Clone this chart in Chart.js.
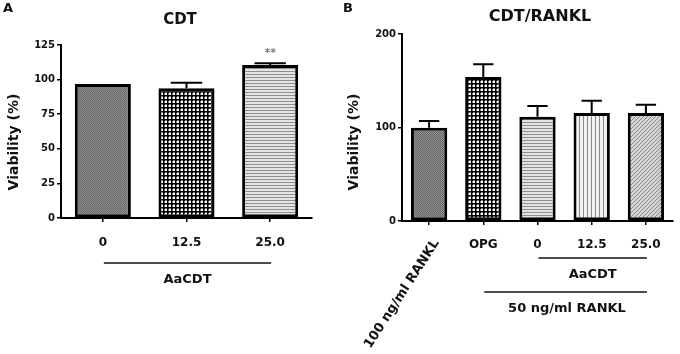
<!DOCTYPE html>
<html>
<head>
<meta charset="utf-8">
<script src="https://cdn.jsdelivr.net/npm/chart.js@4.4.0/dist/chart.umd.min.js"></script>
<style>
  body { margin: 0; background: #fff; width: 680px; height: 354px; position: relative; overflow: hidden; }
  canvas { position: absolute; top: 0; }
</style>
</head>
<body>
<canvas id="chartA" width="340" height="354" style="left:0;width:340px;height:354px"></canvas>
<canvas id="chartB" width="340" height="354" style="left:340px;width:340px;height:354px"></canvas>
<script>
// panel A data
const labelsA = ['0', '12.5', '25.0'];
const viabilityA = [96.8, 93.7, 110.5];
const errorA = [0, 4.1, 1.3];
const ticksA = [0, 25, 50, 75, 100, 125];

// panel B data
const labelsB = ['100 ng/ml RANKL', 'OPG', '0', '12.5', '25.0'];
const viabilityB = [99.7, 154, 111.5, 115.4, 115.4];
const errorB = [7.2, 13.6, 11.4, 13.2, 8.9];
const ticksB = [0, 100, 200];

const FONT = "'DejaVu Sans', sans-serif";
Chart.defaults.font.family = FONT;
Chart.defaults.color = '#111';

// small tile patterns like the GraphPad fills
function tile(w, h, draw) {
    const c = document.createElement('canvas');
    c.width = w; c.height = h;
    const g = c.getContext('2d');
    draw(g);
    return g.createPattern(c, 'repeat');
}
const patGrey = tile(4, 4, g => {
    g.fillStyle = '#939393'; g.fillRect(0, 0, 4, 4);
    g.fillStyle = '#646464';
    for (let i = 0; i < 4; i++) for (let j = 0; j < 4; j++) if ((i + j) % 2 === 0) g.fillRect(i, j, 1, 1);
});
const patDots = tile(4, 4, g => {
    g.fillStyle = '#000'; g.fillRect(0, 0, 4, 4);
    g.fillStyle = '#fff'; g.fillRect(1, 1, 2, 2);
    g.fillStyle = '#777'; g.fillRect(1, 0, 2, 1); g.fillRect(0, 1, 1, 2);
});
const patHoriz = tile(3, 3, g => {
    g.fillStyle = '#e4e4e4'; g.fillRect(0, 0, 3, 3);
    g.fillStyle = '#8e8e8e'; g.fillRect(0, 2, 3, 1);
});
const patVert = tile(4, 4, g => {
    g.fillStyle = '#f2f2f2'; g.fillRect(0, 0, 4, 4);
    g.fillStyle = '#8a8a8a'; g.fillRect(3, 0, 1, 4);
});
const patDiag = tile(4, 4, g => {
    g.fillStyle = '#d4d4d4'; g.fillRect(0, 0, 4, 4);
    g.fillStyle = '#8a8a8a';
    for (let i = 0; i < 4; i++) g.fillRect(i, 3 - i, 1, 1);
});

// draws error bars, titles, group lines
function decor(cfg, errors, means) {
    return {
        id: 'decor',
        afterDatasetsDraw(chart) {
            const ctx = chart.ctx;
            const y = chart.scales.y;
            const bars = chart.getDatasetMeta(0).data;
            ctx.save();
            ctx.strokeStyle = '#000';
            ctx.lineWidth = 2;
            bars.forEach((b, i) => {
                if (!errors[i]) return;
                const top = y.getPixelForValue(means[i] + errors[i]);
                const half = b.width * 0.28;
                ctx.beginPath();
                ctx.moveTo(b.x, b.y);
                ctx.lineTo(b.x, top);
                ctx.moveTo(b.x - half, top);
                ctx.lineTo(b.x + half, top);
                ctx.stroke();
            });
            ctx.restore();
        },
        afterDraw(chart) {
            const ctx = chart.ctx;
            const x = chart.scales.x;
            ctx.save();
            ctx.fillStyle = '#111';
            ctx.textBaseline = 'middle';
            // panel letter
            ctx.font = 'bold 13px ' + FONT;
            ctx.textAlign = 'left';
            ctx.fillText(cfg.letter, cfg.letterX, 9);
            ctx.textAlign = 'center';
            // title
            ctx.font = 'bold ' + cfg.titleSize + 'px ' + FONT;
            ctx.fillText(cfg.title, cfg.titleX, cfg.titleY);
            // y label
            ctx.save();
            ctx.translate(14, 142);
            ctx.rotate(-Math.PI / 2);
            ctx.font = 'bold 14px ' + FONT;
            ctx.fillText('Viability (%)', 0, 0);
            ctx.restore();
            // group lines
            ctx.strokeStyle = '#111';
            ctx.lineWidth = 1.5;
            ctx.font = 'bold 13px ' + FONT;
            cfg.groups.forEach(gr => {
                const x0 = x.getPixelForValue(gr.from) + 1;
                const x1 = x.getPixelForValue(gr.to) + 1;
                ctx.beginPath();
                ctx.moveTo(x0, gr.lineY);
                ctx.lineTo(x1, gr.lineY);
                ctx.stroke();
                ctx.fillText(gr.text, gr.textX != null ? gr.textX : (x0 + x1) / 2, gr.lineY + 17);
            });
            if (cfg.star) {
                ctx.fillStyle = '#777';
                ctx.font = 'bold 11px ' + FONT;
                const b = chart.getDatasetMeta(0).data[cfg.star.index];
                ctx.fillText('**', b.x, cfg.star.y);
            }
            if (cfg.rotated) {
                ctx.fillStyle = '#111';
                ctx.font = 'bold 13px ' + FONT;
                ctx.save();
                ctx.translate(cfg.rotated.x, cfg.rotated.y);
                ctx.rotate(-57 * Math.PI / 180);
                ctx.fillText(labelsB[0], 0, 0);
                ctx.restore();
            }
            ctx.restore();
        }
    };
}

function makeChart(id, labels, means, errors, fills, ticks, area, cfg) {
    const step = ticks[1] - ticks[0];
    return new Chart(document.getElementById(id), {
        type: 'bar',
        data: {
            labels: labels,
            datasets: [{
                data: means,
                backgroundColor: fills,
                borderColor: '#000',
                borderWidth: 3,
                borderSkipped: false,
                barPercentage: 0.67,
                categoryPercentage: 1.0
            }]
        },
        options: {
            responsive: false,
            animation: false,
            events: [],
            layout: { padding: { left: 0, top: area.top, right: 340 - area.right, bottom: 0 } },
            plugins: { legend: { display: false }, tooltip: { enabled: false }, title: { display: false } },
            scales: {
                x: {
                    afterFit: s => { s.height = 354 - area.bottom; },
                    grid: { offset: false, drawOnChartArea: false, drawTicks: true, tickLength: 4, color: '#000', lineWidth: 1.5 },
                    border: { display: true, color: '#000', width: 2 },
                    ticks: {
                        autoSkip: false, maxRotation: 0, minRotation: 0, padding: cfg.xPad,
                        color: '#111', font: { size: 12, weight: 'bold' },
                        callback: function (v, i) { return cfg.hideFirst && i === 0 ? '' : this.getLabelForValue(v); }
                    }
                },
                y: {
                    min: ticks[0], max: ticks[ticks.length - 1],
                    afterFit: s => { s.width = area.left; },
                    grid: { drawOnChartArea: false, drawTicks: true, tickLength: 4, color: '#000', lineWidth: 1.5 },
                    border: { display: true, color: '#000', width: 2 },
                    ticks: { stepSize: step, padding: 2, color: '#111', font: { size: 10, weight: 'bold' } }
                }
            }
        },
        plugins: [decor(cfg, errors, means)]
    });
}

makeChart('chartA', labelsA, viabilityA, errorA, [patGrey, patDots, patHoriz], ticksA,
    { left: 61, right: 312, top: 45, bottom: 218 },
    {
        letter: 'A', letterX: 3, title: 'CDT', titleSize: 15, titleX: 180, titleY: 20, xPad: 14,
        groups: [{ from: 0, to: 2, lineY: 263, text: 'AaCDT' }],
        star: { index: 2, y: 53 }
    });

makeChart('chartB', labelsB, viabilityB, errorB, [patGrey, patDots, patHoriz, patVert, patDiag], ticksB,
    { left: 62, right: 333, top: 34, bottom: 221 },
    {
        letter: 'B', letterX: 3, title: 'CDT/RANKL', titleSize: 16, titleX: 200, titleY: 17, xPad: 13, hideFirst: true,
        groups: [
            { from: 2, to: 4, lineY: 258, text: 'AaCDT' },
            { from: 1, to: 4, lineY: 292, text: '50 ng/ml RANKL', textX: 227 }
        ],
        rotated: { x: 62, y: 294 }
    });
</script>
</body>
</html>
